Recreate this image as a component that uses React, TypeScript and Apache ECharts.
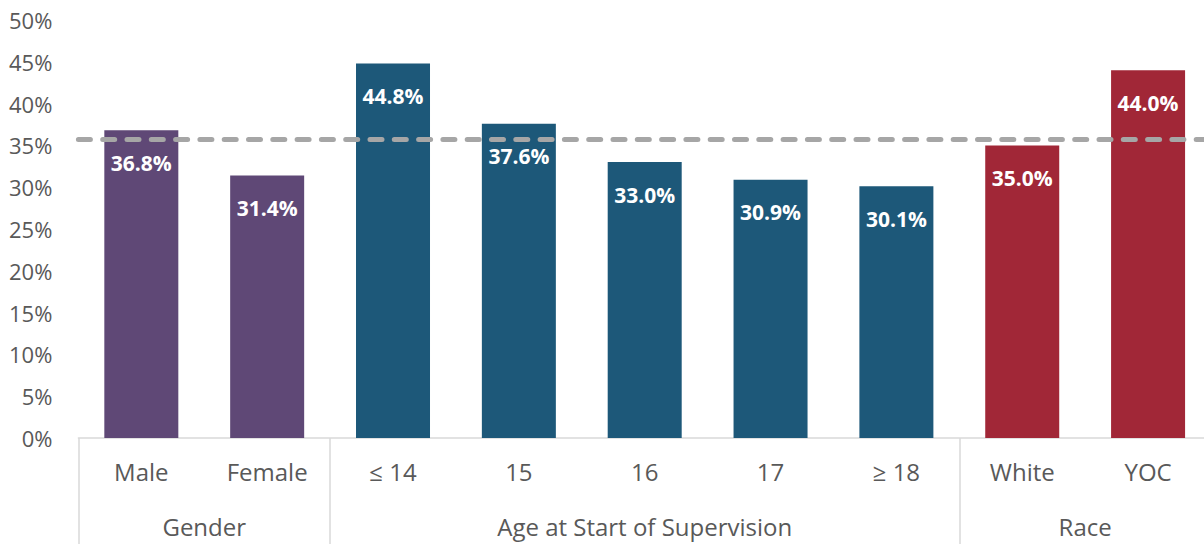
import React, { useEffect, useRef } from "react";
import * as echarts from "echarts";

const categories = ["Male", "Female", "≤ 14", "15", "16", "17", "≥ 18", "White", "YOC"];
const values = [36.8, 31.4, 44.8, 37.6, 33.0, 30.9, 30.1, 35.0, 44.0];
const groups = ["Gender", "Age at Start of Supervision", "Race"];
const groupSizes = [2, 5, 2];
const overallRate = 35.7;
const yTickMax = 50;
const yTickStep = 5;

const groupColors = ["#5f4876", "#1d5879", "#a12737"];
const FONT = "'Open Sans', 'Noto Sans', sans-serif";
const TEXT = "#595959";

export default function App() {
  const ref = useRef<HTMLDivElement>(null);

  useEffect(() => {
    if (!ref.current) return;
    const chart = echarts.init(ref.current, undefined, { renderer: "svg" });

    const boundaries: number[] = [0];
    groupSizes.forEach((s) => boundaries.push(boundaries[boundaries.length - 1] + s));
    const centers = groupSizes.map((s, i) => boundaries[i] + s / 2);
    const colorOf = (idx: number) => {
      for (let g = 0; g < groupSizes.length; g++) {
        if (idx < boundaries[g + 1]) return groupColors[g];
      }
      return groupColors[groupColors.length - 1];
    };

    chart.setOption({
      animation: false,
      textStyle: { fontFamily: FONT },
      grid: { left: 78.4, right: 0, top: 20, bottom: 106, containLabel: false },
      xAxis: [
        {
          type: "category",
          data: categories,
          axisLine: { show: true, lineStyle: { color: "#d9d9d9", width: 1.5 } },
          axisTick: { show: false },
          axisLabel: { fontSize: 24, color: TEXT, margin: 21, fontFamily: FONT },
        },
        {
          type: "value",
          min: 0,
          max: categories.length,
          position: "bottom",
          axisLine: { show: false },
          splitLine: { show: false },
          axisTick: {
            show: true,
            customValues: boundaries,
            length: 106,
            lineStyle: { color: "#d9d9d9", width: 1.5 },
          },
          axisLabel: {
            customValues: centers,
            formatter: (v: number) => {
              const i = centers.findIndex((c) => Math.abs(c - v) < 1e-6);
              return i >= 0 ? groups[i] : "";
            },
            fontSize: 24,
            color: TEXT,
            margin: 76,
            fontFamily: FONT,
          },
        },
      ],
      yAxis: {
        type: "value",
        min: 0,
        max: yTickMax,
        interval: yTickStep,
        axisLine: { show: false },
        axisTick: { show: false },
        splitLine: { show: false },
        axisLabel: { formatter: "{value}%", fontSize: 22, color: TEXT, margin: 26, fontFamily: FONT },
      },
      series: [
        {
          type: "bar",
          xAxisIndex: 0,
          barWidth: 74,
          data: values.map((v, i) => ({ value: v, itemStyle: { color: colorOf(i) } })),
          label: {
            show: true,
            position: "insideTop",
            distance: 22,
            formatter: (p: any) => p.value.toFixed(1) + "%",
            color: "#ffffff",
            fontSize: 21,
            fontWeight: "bold",
            fontFamily: FONT,
          },
        },
      ],
    });

    // reference line placed through the library's own scales
    const x0 = chart.convertToPixel({ xAxisIndex: 1 }, 0) as number;
    const x1 = chart.convertToPixel({ xAxisIndex: 1 }, categories.length) as number;
    const y = chart.convertToPixel({ yAxisIndex: 0 }, overallRate) as number;
    chart.setOption({
      graphic: [
        {
          type: "line",
          silent: true,
          z: 100,
          shape: { x1: x0, y1: y, x2: x1, y2: y },
          style: { stroke: "#a6a6a6", lineWidth: 5, lineDash: [12, 12.3], lineCap: "round" },
        },
      ],
    });

    return () => chart.dispose();
  }, []);

  return (
    <div style={{ position: "absolute", left: 0, top: 0, width: 1204, height: 544, overflow: "hidden", background: "#ffffff" }}>
      <div ref={ref} style={{ position: "absolute", left: 0, top: 0, width: 1211, height: 544 }} />
    </div>
  );
}
